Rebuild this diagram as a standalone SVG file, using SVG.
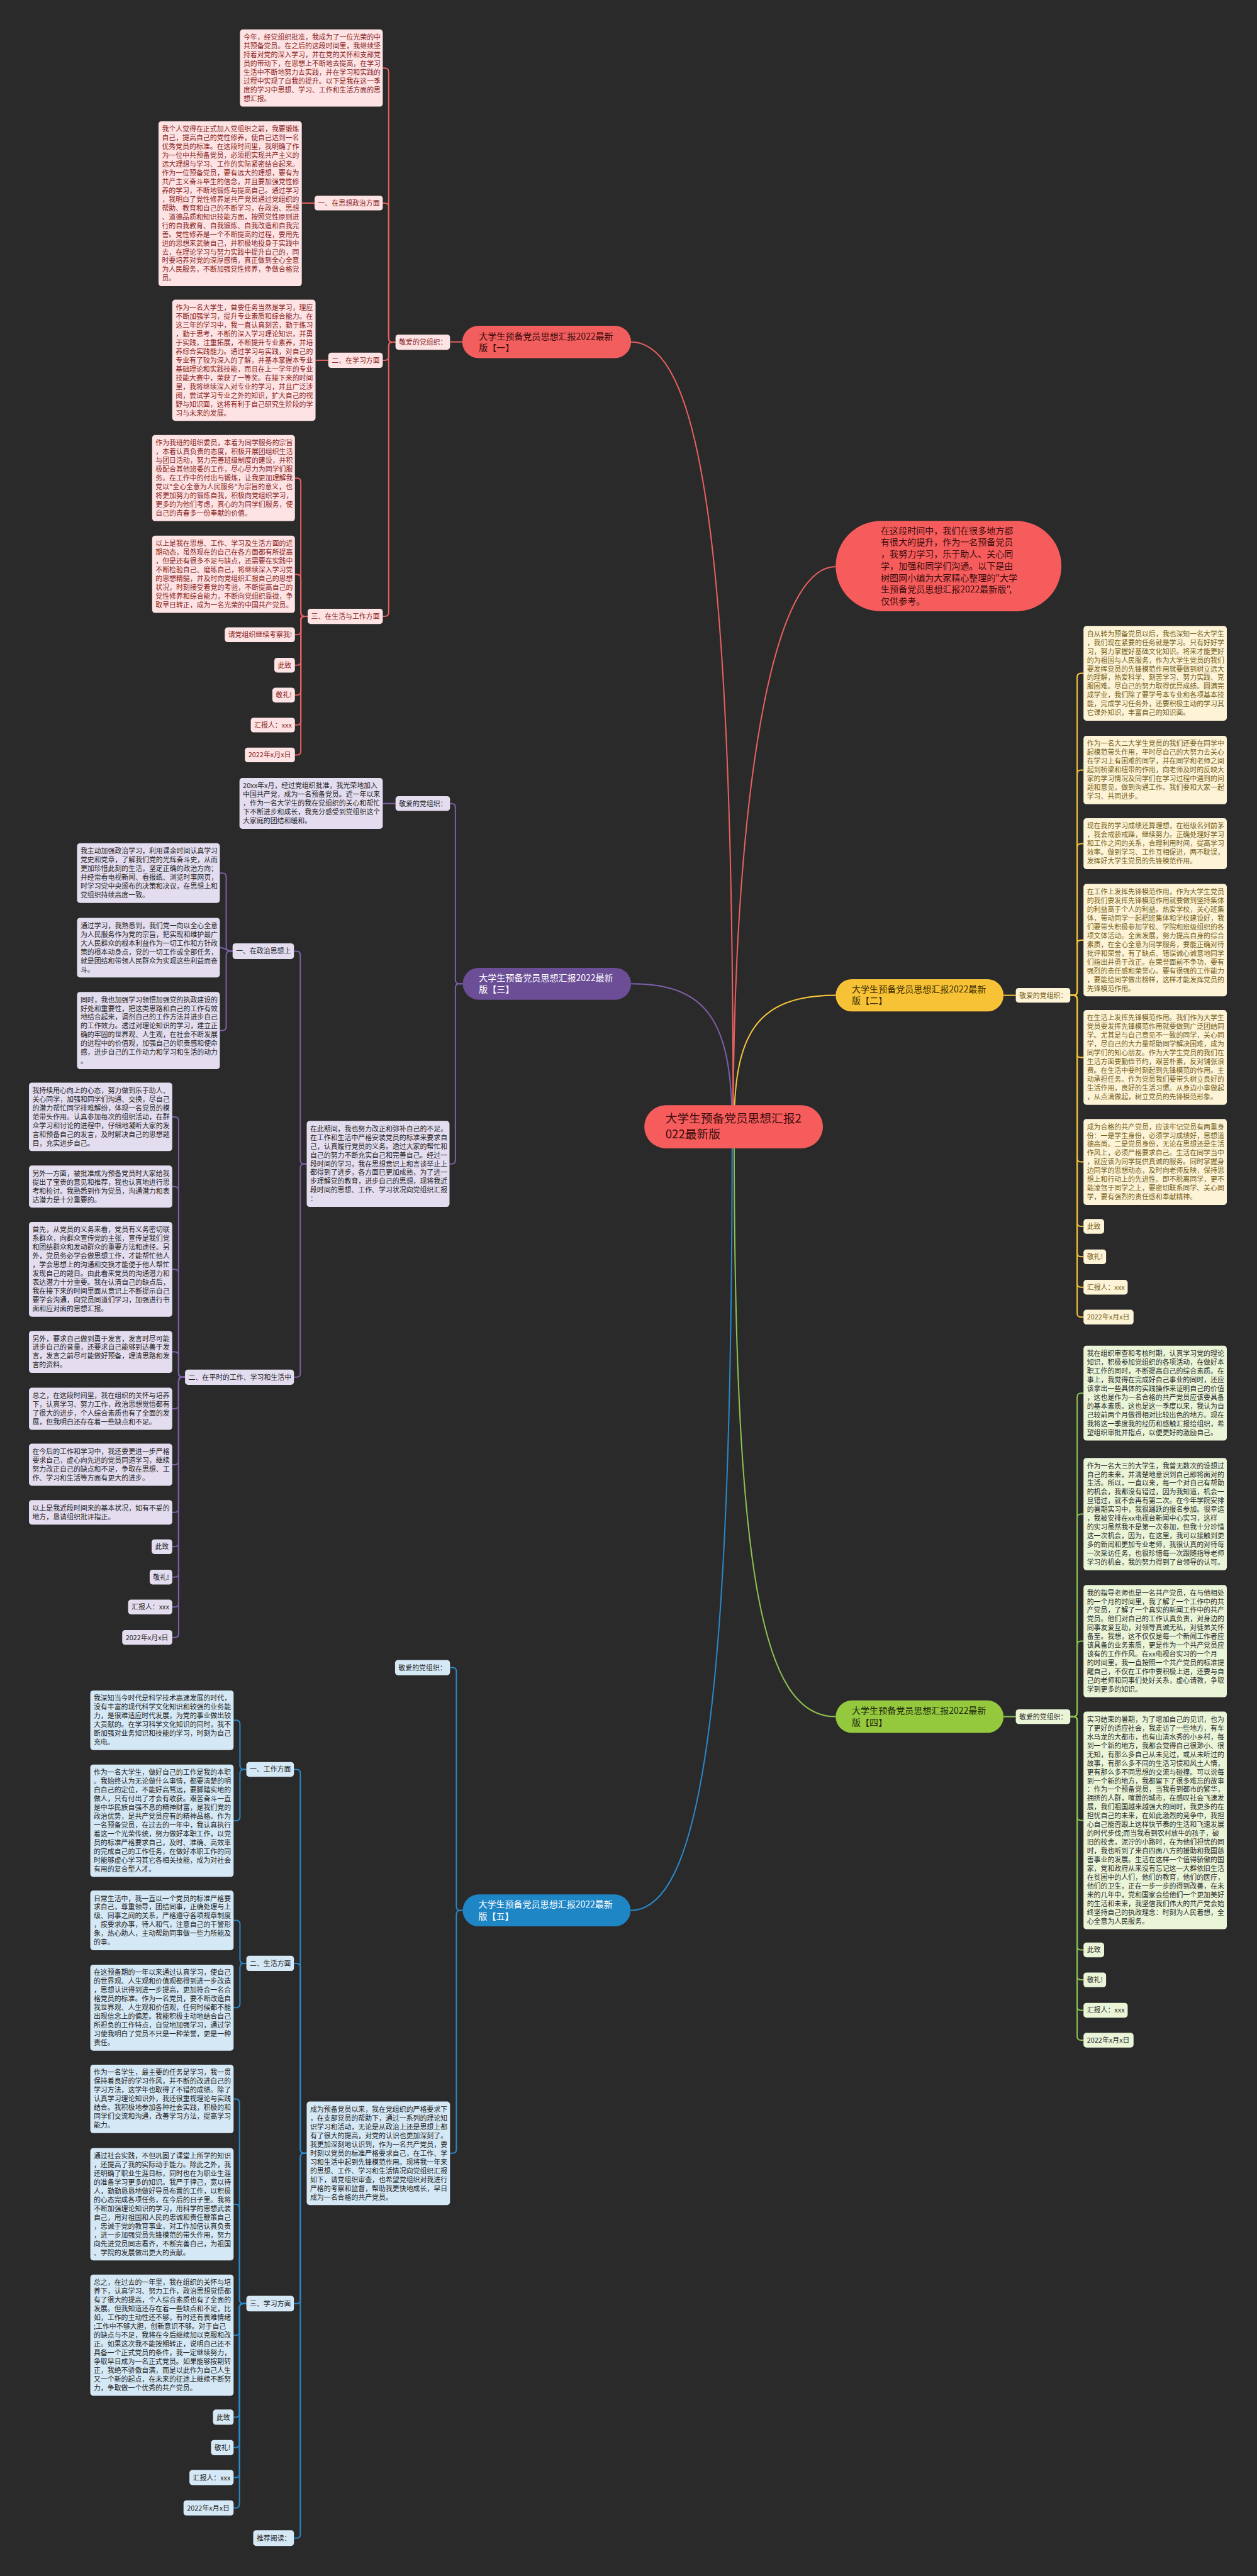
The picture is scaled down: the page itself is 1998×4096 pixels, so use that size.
<svg xmlns="http://www.w3.org/2000/svg" width="1998" height="4096" viewBox="0 0 1998 4096">
<defs><style>
.t{font-family:"Noto Sans CJK SC","Noto Sans",sans-serif;font-size:14px}
.big{font-size:18px}
.rt{font-size:24px}
.c{fill:none;stroke-width:2.6}
.r1{fill:#fde3e3}.x1{fill:#8a1f1f}.l1{stroke:#e8605f}
.r2{fill:#fdf3d6}.x2{fill:#76621c}.l2{stroke:#f2c23a}
.r3{fill:#e3ddef}.x3{fill:#262626}.l3{stroke:#7d5fa8}
.r4{fill:#eaf5d8}.x4{fill:#2c2c2c}.l4{stroke:#8cc152}
.r5{fill:#d5e8f5}.x5{fill:#1e1e1e}.l5{stroke:#2a88c8}
.dk{fill:#3a0c0c}.wh{fill:#ffffff}
</style></defs>
<rect width="1998" height="4096" fill="#2a2a2a"/>
<g transform="scale(0.78)">
<g id="connectors">
<path class="c l1" d="M1494,2297C1494,1200 1440,697 1286,697"/>
<path class="c l1" d="M1494,2297C1494,1700 1560,1155 1703,1155"/>
<path class="c l2" d="M1496,2297C1496,2110 1540,2029 1703,2029"/>
<path class="c l3" d="M1492,2297C1492,2080 1440,2005.5 1286,2005.5"/>
<path class="c l4" d="M1496,2297C1496,3200 1550,3499.5 1703,3499.5"/>
<path class="c l5" d="M1492,2297C1492,3400 1440,3894.5 1285,3894.5"/>
<g class="c l1">
<path d="M942,697H917"/>
<path d="M806,697.5H800Q792,697.5 792,689.5V146.7Q792,138.7 784,138.7H780"/>
<path d="M806,697.5H800Q792,697.5 792,689.5V422Q792,414 784,414H780"/>
<path d="M806,697.5H800Q792,697.5 792,705.5V726.5Q792,734.5 784,734.5H780"/>
<path d="M806,697.5H800Q792,697.5 792,705.5V1248.5Q792,1256.5 784,1256.5H780"/>
<path d="M641,414H615"/>
<path d="M669,734.5H643"/>
<path d="M627,1256.5H621Q613,1256.5 613,1248.5V982.6Q613,974.6 605,974.6H601"/>
<path d="M627,1256.5H621Q613,1256.5 613,1248.5V1178.7Q613,1170.7 605,1170.7H601"/>
<path d="M627,1256.5H621Q613,1256.5 613,1264.5V1286Q613,1294 605,1294H601"/>
<path d="M627,1256.5H621Q613,1256.5 613,1264.5V1348Q613,1356 605,1356H601"/>
<path d="M627,1256.5H621Q613,1256.5 613,1264.5V1409Q613,1417 605,1417H601"/>
<path d="M627,1256.5H621Q613,1256.5 613,1264.5V1470Q613,1478 605,1478H601"/>
<path d="M627,1256.5H621Q613,1256.5 613,1264.5V1531Q613,1539 605,1539H601"/>
</g>
<g class="c l3">
<path d="M943,2005.5H936Q928,2005.5 928,1997.5V1646Q928,1638 920,1638H917"/>
<path d="M943,2005.5H936Q928,2005.5 928,2013.5V2364.7Q928,2372.7 920,2372.7H916"/>
<path d="M806,1638H780"/>
<path d="M625,2372.7H620Q612,2372.7 612,2364.7V1947Q612,1939 604,1939H599"/>
<path d="M625,2372.7H620Q612,2372.7 612,2380.7V2799.5Q612,2807.5 604,2807.5H599"/>
<path d="M474,1939H469Q461,1939 461,1931V1787.8Q461,1779.8 453,1779.8H448"/>
<path d="M474,1939C461,1939 461,1931.8 448,1931.8"/>
<path d="M474,1939H469Q461,1939 461,1947V2092.7Q461,2100.7 453,2100.7H448"/>
<path d="M377,2807.5H372Q364,2807.5 364,2799.5V2284.8Q364,2276.8 356,2276.8H351"/>
<path d="M377,2807.5H372Q364,2807.5 364,2799.5V2426.9Q364,2418.9 356,2418.9H351"/>
<path d="M377,2807.5H372Q364,2807.5 364,2799.5V2595.6Q364,2587.6 356,2587.6H351"/>
<path d="M377,2807.5H372Q364,2807.5 364,2799.5V2763.9Q364,2755.9 356,2755.9H351"/>
<path d="M377,2807.5H372Q364,2807.5 364,2815.5V2863.9Q364,2871.9 356,2871.9H351"/>
<path d="M377,2807.5H372Q364,2807.5 364,2815.5V2977.9Q364,2985.9 356,2985.9H351"/>
<path d="M377,2807.5H372Q364,2807.5 364,2815.5V3075Q364,3083 356,3083H351"/>
<path d="M377,2807.5H372Q364,2807.5 364,2815.5V3145Q364,3153 356,3153H351"/>
<path d="M377,2807.5H372Q364,2807.5 364,2815.5V3207Q364,3215 356,3215H351"/>
<path d="M377,2807.5H372Q364,2807.5 364,2815.5V3268Q364,3276 356,3276H351"/>
<path d="M377,2807.5H372Q364,2807.5 364,2815.5V3330Q364,3338 356,3338H351"/>
</g>
<g class="c l2">
<path d="M2045,2029H2070"/>
<path d="M2181,2029H2187Q2195,2029 2195,2021V1380.6Q2195,1372.6 2203,1372.6H2208"/>
<path d="M2181,2029H2187Q2195,2029 2195,2021V1577.8Q2195,1569.8 2203,1569.8H2208"/>
<path d="M2181,2029H2187Q2195,2029 2195,2021V1727.9Q2195,1719.9 2203,1719.9H2208"/>
<path d="M2181,2029H2187Q2195,2029 2195,2021V1924.5Q2195,1916.5 2203,1916.5H2208"/>
<path d="M2181,2029H2187Q2195,2029 2195,2037V2147.6Q2195,2155.6 2203,2155.6H2208"/>
<path d="M2181,2029H2187Q2195,2029 2195,2037V2360.7Q2195,2368.7 2203,2368.7H2208"/>
<path d="M2181,2029H2187Q2195,2029 2195,2037V2492Q2195,2500 2203,2500H2208"/>
<path d="M2181,2029H2187Q2195,2029 2195,2037V2554Q2195,2562 2203,2562H2208"/>
<path d="M2181,2029H2187Q2195,2029 2195,2037V2616Q2195,2624 2203,2624H2208"/>
<path d="M2181,2029H2187Q2195,2029 2195,2037V2677Q2195,2685 2203,2685H2208"/>
</g>
<g class="c l4">
<path d="M2045,3499.5H2070"/>
<path d="M2181,3499.5H2187Q2195,3499.5 2195,3491.5V2848Q2195,2840 2203,2840H2208"/>
<path d="M2181,3499.5H2187Q2195,3499.5 2195,3491.5V3094.5Q2195,3086.5 2203,3086.5H2208"/>
<path d="M2181,3499.5H2187Q2195,3499.5 2195,3491.5V3353.5Q2195,3345.5 2203,3345.5H2208"/>
<path d="M2181,3499.5H2187Q2195,3499.5 2195,3507.5V3702.9Q2195,3710.9 2203,3710.9H2208"/>
<path d="M2181,3499.5H2187Q2195,3499.5 2195,3507.5V3967Q2195,3975 2203,3975H2208"/>
<path d="M2181,3499.5H2187Q2195,3499.5 2195,3507.5V4028Q2195,4036 2203,4036H2208"/>
<path d="M2181,3499.5H2187Q2195,3499.5 2195,3507.5V4090Q2195,4098 2203,4098H2208"/>
<path d="M2181,3499.5H2187Q2195,3499.5 2195,3507.5V4151Q2195,4159 2203,4159H2208"/>
</g>
<g class="c l5">
<path d="M943,3894.5H938Q930,3894.5 930,3886.5V3407.5Q930,3399.5 922,3399.5H917"/>
<path d="M943,3894.5H938Q930,3894.5 930,3902.5V4381.5Q930,4389.5 922,4389.5H917"/>
<path d="M625,4389.5H620Q612,4389.5 612,4381.5V3615Q612,3607 604,3607H599"/>
<path d="M625,4389.5H620Q612,4389.5 612,4381.5V4010.5Q612,4002.5 604,4002.5H599"/>
<path d="M625,4389.5H620Q612,4389.5 612,4397.5V4688Q612,4696 604,4696H599"/>
<path d="M625,4389.5H620Q612,4389.5 612,4397.5V5166Q612,5174 604,5174H599"/>
<path d="M502,3607H497Q489,3607 489,3599V3514.8Q489,3506.8 481,3506.8H476"/>
<path d="M502,3607H497Q489,3607 489,3615V3703.5Q489,3711.5 481,3711.5H476"/>
<path d="M502,4002.5H497Q489,4002.5 489,3994.5V3922.8Q489,3914.8 481,3914.8H476"/>
<path d="M502,4002.5H497Q489,4002.5 489,4010.5V4084.7Q489,4092.7 481,4092.7H476"/>
<path d="M502,4696H496Q488,4696 488,4688V4286.8Q488,4278.8 480,4278.8H476"/>
<path d="M502,4696H496Q488,4696 488,4688V4501.5Q488,4493.5 480,4493.5H476"/>
<path d="M502,4696H496Q488,4696 488,4704V4752.5Q488,4760.5 480,4760.5H476"/>
<path d="M502,4696H496Q488,4696 488,4704V4919.5Q488,4927.5 480,4927.5H476"/>
<path d="M502,4696H496Q488,4696 488,4704V4981.5Q488,4989.5 480,4989.5H476"/>
<path d="M502,4696H496Q488,4696 488,4704V5042.5Q488,5050.5 480,5050.5H476"/>
<path d="M502,4696H496Q488,4696 488,4704V5104.5Q488,5112.5 480,5112.5H476"/>
</g>
</g>

<g id="root"><rect x="1313" y="2253" width="364" height="88" rx="44" fill="#f75c5c"/><text class="t rt dk" y="2289"><tspan x="1356">大学生预备党员思想汇报2</tspan><tspan x="1356" dy="31">022最新版</tspan></text></g>
<g id="intro"><rect x="1703" y="1062" width="460" height="184" rx="92" fill="#f75c5c"/><text class="t big dk" y="1088"><tspan x="1795">在这段时间中，我们在很多地方都</tspan><tspan x="1795" dy="24">有很大的提升，作为一名预备党员</tspan><tspan x="1795" dy="24">，我努力学习，乐于助人、关心同</tspan><tspan x="1795" dy="24">学，加强和同学们沟通。以下是由</tspan><tspan x="1795" dy="24">树图网小编为大家精心整理的"大学</tspan><tspan x="1795" dy="24">生预备党员思想汇报2022最新版",</tspan><tspan x="1795" dy="24">仅供参考。</tspan></text></g>

<!-- branch 1 -->
<g id="n1"><rect x="942" y="664" width="344" height="66" rx="33" fill="#f25d5d"/><text class="t big dk" y="692"><tspan x="976">大学生预备党员思想汇报2022最新</tspan><tspan x="976" dy="23.5">版【一】</tspan></text></g>
<g id="n1-dear"><rect class="r1" x="806" y="682" width="111" height="31" rx="6"/><text class="t x1" x="813" y="703">敬爱的党组织：</text></g>
<g id="n1-a1"><rect class="r1" x="489" y="60" width="291" height="157.4" rx="6"/><text class="t x1" y="81"><tspan x="496">今年，经党组织批准，我成为了一位光荣的中</tspan><tspan x="496" dy="17.9">共预备党员。在之后的这段时间里，我继续坚</tspan><tspan x="496" dy="17.9">持着对党的深入学习，并在党的关怀和支部党</tspan><tspan x="496" dy="17.9">员的带动下，在思想上不断地去提高，在学习</tspan><tspan x="496" dy="17.9">生活中不断地努力去实践，并在学习和实践的</tspan><tspan x="496" dy="17.9">过程中实现了自我的提升。以下是我在这一季</tspan><tspan x="496" dy="17.9">度的学习中思想、学习、工作和生活方面的思</tspan><tspan x="496" dy="17.9">想汇报。</tspan></text></g>
<g id="n1-s1"><rect class="r1" x="641" y="399" width="139" height="30" rx="6"/><text class="t x1" x="648" y="419">一、在思想政治方面</text></g>
<g id="n1-a2"><rect class="r1" x="323" y="247" width="292" height="336.4" rx="6"/><text class="t x1" y="268"><tspan x="330">我个人觉得在正式加入党组织之前，我要锻炼</tspan><tspan x="330" dy="17.9">自己，提高自己的党性修养，使自己达到一名</tspan><tspan x="330" dy="17.9">优秀党员的标准。在这段时间里，我明确了作</tspan><tspan x="330" dy="17.9">为一位中共预备党员，必须把实现共产主义的</tspan><tspan x="330" dy="17.9">远大理想与学习、工作的实际紧密结合起来。</tspan><tspan x="330" dy="17.9">作为一位预备党员，要有远大的理想，要有为</tspan><tspan x="330" dy="17.9">共产主义奋斗毕生的信念，并且要加强党性修</tspan><tspan x="330" dy="17.9">养的学习，不断地锻炼与提高自己。通过学习</tspan><tspan x="330" dy="17.9">，我明白了党性修养是共产党员通过党组织的</tspan><tspan x="330" dy="17.9">帮助、教育和自己的不断学习，在政治、思想</tspan><tspan x="330" dy="17.9">、道德品质和知识技能方面，按照党性原则进</tspan><tspan x="330" dy="17.9">行的自我教育、自我锻炼、自我改造和自我完</tspan><tspan x="330" dy="17.9">善。党性修养是一个不断提高的过程，要用先</tspan><tspan x="330" dy="17.9">进的思想来武装自己，并积极地投身于实践中</tspan><tspan x="330" dy="17.9">去，在理论学习与努力实践中提升自己的，同</tspan><tspan x="330" dy="17.9">时要培养对党的深厚感情，真正做到全心全意</tspan><tspan x="330" dy="17.9">为人民服务，不断加强党性修养，争做合格党</tspan><tspan x="330" dy="17.9">员。</tspan></text></g>
<g id="n1-s2"><rect class="r1" x="669" y="719" width="111" height="31" rx="6"/><text class="t x1" x="676" y="740">二、在学习方面</text></g>
<g id="n1-a3"><rect class="r1" x="351" y="611" width="292" height="246.9" rx="6"/><text class="t x1" y="632"><tspan x="358">作为一名大学生，首要任务当然是学习，理应</tspan><tspan x="358" dy="17.9">不断加强学习，提升专业素质和综合能力。在</tspan><tspan x="358" dy="17.9">这三年的学习中，我一直认真刻苦，勤于练习</tspan><tspan x="358" dy="17.9">，勤于思考，不断的深入学习理论知识，并勇</tspan><tspan x="358" dy="17.9">于实践，注重拓展，不断提升专业素养，并培</tspan><tspan x="358" dy="17.9">养综合实践能力。通过学习与实践，对自己的</tspan><tspan x="358" dy="17.9">专业有了较为深入的了解，并基本掌握本专业</tspan><tspan x="358" dy="17.9">基础理论和实践技能，而且在上一学年的专业</tspan><tspan x="358" dy="17.9">技能大赛中，荣获了一等奖。在接下来的时间</tspan><tspan x="358" dy="17.9">里，我将继续深入对专业的学习，并且广泛涉</tspan><tspan x="358" dy="17.9">阅，尝试学习专业之外的知识，扩大自己的视</tspan><tspan x="358" dy="17.9">野与知识面，这将有利于自己研究生阶段的学</tspan><tspan x="358" dy="17.9">习与未来的发展。</tspan></text></g>
<g id="n1-s3"><rect class="r1" x="627" y="1241" width="153" height="31" rx="6"/><text class="t x1" x="634" y="1262">三、在生活与工作方面</text></g>
<g id="n1-a4"><rect class="r1" x="310" y="887" width="291" height="175.3" rx="6"/><text class="t x1" y="908"><tspan x="317">作为我班的组织委员，本着为同学服务的宗旨</tspan><tspan x="317" dy="17.9">，本着认真负责的态度，积极开展团组织生活</tspan><tspan x="317" dy="17.9">与团日活动，努力完善班级制度的建设，并积</tspan><tspan x="317" dy="17.9">极配合其他班委的工作，尽心尽力为同学们服</tspan><tspan x="317" dy="17.9">务。在工作中的付出与锻炼，让我更加理解我</tspan><tspan x="317" dy="17.9">党以"全心全意为人民服务"为宗旨的意义，也</tspan><tspan x="317" dy="17.9">将更加努力的锻炼自我，积极向党组织学习，</tspan><tspan x="317" dy="17.9">更多的为他们考虑，真心的为同学们服务，使</tspan><tspan x="317" dy="17.9">自己的青春多一份奉献的价值。</tspan></text></g>
<g id="n1-a5"><rect class="r1" x="310" y="1092" width="291" height="157.4" rx="6"/><text class="t x1" y="1113"><tspan x="317">以上是我在思想、工作、学习及生活方面的近</tspan><tspan x="317" dy="17.9">期动态，虽然现在的自己在各方面都有所提高</tspan><tspan x="317" dy="17.9">，但是还有很多不足与缺点，还需要在实践中</tspan><tspan x="317" dy="17.9">不断检验自己、磨练自己，将继续深入学习党</tspan><tspan x="317" dy="17.9">的思想精髓，并及时向党组织汇报自己的思想</tspan><tspan x="317" dy="17.9">状况，时刻接受着党的考验，不断提高自己的</tspan><tspan x="317" dy="17.9">党性修养和综合能力，不断向党组织靠拢，争</tspan><tspan x="317" dy="17.9">取早日转正，成为一名光荣的中国共产党员。</tspan></text></g>
<g id="n1-a6"><rect class="r1" x="458" y="1279" width="143" height="30" rx="6"/><text class="t x1" x="465" y="1299">请党组织继续考察我!</text></g>
<g id="n1-a7"><rect class="r1" x="559" y="1341" width="42" height="30" rx="6"/><text class="t x1" x="566" y="1361">此致</text></g>
<g id="n1-a8"><rect class="r1" x="555" y="1402" width="46" height="30" rx="6"/><text class="t x1" x="562" y="1422">敬礼!</text></g>
<g id="n1-a9"><rect class="r1" x="511" y="1463" width="90" height="30" rx="6"/><text class="t x1" x="518" y="1483">汇报人：xxx</text></g>
<g id="n1-a10"><rect class="r1" x="499" y="1524" width="102" height="30" rx="6"/><text class="t x1" x="506" y="1544">2022年x月x日</text></g>

<!-- branch 3 -->
<g id="n3"><rect x="943" y="1973" width="343" height="65" rx="32.5" fill="#6b4e96"/><text class="t big wh" y="2000"><tspan x="976">大学生预备党员思想汇报2022最新</tspan><tspan x="976" dy="23.5">版【三】</tspan></text></g>
<g id="n3-dear"><rect class="r3" x="806" y="1623" width="111" height="30" rx="6"/><text class="t x3" x="813" y="1643">敬爱的党组织：</text></g>
<g id="n3-intro"><rect class="r3" x="488" y="1586" width="292" height="103.7" rx="6"/><text class="t x3" y="1607"><tspan x="495">20xx年x月，经过党组织批准，我光荣地加入</tspan><tspan x="495" dy="17.9">中国共产党，成为一名预备党员。近一年以来</tspan><tspan x="495" dy="17.9">，作为一名大学生的我在党组织的关心和帮忙</tspan><tspan x="495" dy="17.9">下不断进步和成长，我充分感受到党组织这个</tspan><tspan x="495" dy="17.9">大家庭的团结和暖和。</tspan></text></g>
<g id="n3-b"><rect class="r3" x="625" y="2285" width="291" height="175.3" rx="6"/><text class="t x3" y="2306"><tspan x="632">在此期间，我也努力改正和弥补自己的不足。</tspan><tspan x="632" dy="17.9">在工作和生活中严格安装党员的标准来要求自</tspan><tspan x="632" dy="17.9">己，认真履行党员的义务。透过大家的帮忙和</tspan><tspan x="632" dy="17.9">自己的努力不断充实自己和完善自己。经过一</tspan><tspan x="632" dy="17.9">段时间的学习，我在思想意识上和言谈举止上</tspan><tspan x="632" dy="17.9">都得到了进步，各方面已更加成熟，为了进一</tspan><tspan x="632" dy="17.9">步理解党的教育，进步自己的思想，现将我近</tspan><tspan x="632" dy="17.9">段时间的思想、工作、学习状况向党组织汇报</tspan><tspan x="632" dy="17.9">：</tspan></text></g>
<g id="n3-s1"><rect class="r3" x="474" y="1923" width="125" height="32" rx="6"/><text class="t x3" x="481" y="1944">一、在政治思想上</text></g>
<g id="n3-s2"><rect class="r3" x="377" y="2792" width="222" height="31" rx="6"/><text class="t x3" x="384" y="2813">二、在平时的工作、学习和生活中</text></g>
<g id="n3-c1"><rect class="r3" x="157" y="1719" width="291" height="121.6" rx="6"/><text class="t x3" y="1740"><tspan x="164">我主动加强政治学习，利用课余时间认真学习</tspan><tspan x="164" dy="17.9">党史和党章，了解我们党的光辉奋斗史，从而</tspan><tspan x="164" dy="17.9">更加珍惜此刻的生活，坚定正确的政治方向；</tspan><tspan x="164" dy="17.9">并经常看电视新闻、看报纸、浏览时事网页，</tspan><tspan x="164" dy="17.9">时学习党中央颁布的决策和决议，在思想上和</tspan><tspan x="164" dy="17.9">党组织持续高度一致。</tspan></text></g>
<g id="n3-c2"><rect class="r3" x="157" y="1871" width="291" height="121.6" rx="6"/><text class="t x3" y="1892"><tspan x="164">通过学习，我熟悉到，我们党一向以全心全意</tspan><tspan x="164" dy="17.9">为人民服务作为党的宗旨，把实现和维护最广</tspan><tspan x="164" dy="17.9">大人民群众的根本利益作为一切工作和方针政</tspan><tspan x="164" dy="17.9">策的根本动身点，党的一切工作或全部任务，</tspan><tspan x="164" dy="17.9">就是团结和带领人民群众为实现这些利益而奋</tspan><tspan x="164" dy="17.9">斗。</tspan></text></g>
<g id="n3-c3"><rect class="r3" x="157" y="2022" width="291" height="157.4" rx="6"/><text class="t x3" y="2043"><tspan x="164">同时，我也加强学习领悟加强党的执政建设的</tspan><tspan x="164" dy="17.9">好处和重要性，把这类思路和自己的工作有效</tspan><tspan x="164" dy="17.9">地结合起来，调剂自己的工作方法并进步自己</tspan><tspan x="164" dy="17.9">的工作效力。透过对理论知识的学习，建立正</tspan><tspan x="164" dy="17.9">确的牢固的世界观、人生观，在社会不断发展</tspan><tspan x="164" dy="17.9">的进程中的价值观，加强自己的职责感和使命</tspan><tspan x="164" dy="17.9">感，进步自己的工作动力和学习和生活的动力</tspan><tspan x="164" dy="17.9">。</tspan></text></g>
<g id="n3-c4"><rect class="r3" x="59" y="2207" width="292" height="139.5" rx="6"/><text class="t x3" y="2228"><tspan x="66">我持续用心向上的心态，努力做到乐于助人、</tspan><tspan x="66" dy="17.9">关心同学，加强和同学们沟通、交换，尽自己</tspan><tspan x="66" dy="17.9">的潜力帮忙同学排难解纷，体现一名党员的模</tspan><tspan x="66" dy="17.9">范带头作用。认真参加每次的组织活动，在群</tspan><tspan x="66" dy="17.9">众学习和讨论的进程中，仔细地凝听大家的发</tspan><tspan x="66" dy="17.9">言和预备自己的发言，及时解决自己的思想题</tspan><tspan x="66" dy="17.9">目，充实进步自己。</tspan></text></g>
<g id="n3-c5"><rect class="r3" x="59" y="2376" width="292" height="85.8" rx="6"/><text class="t x3" y="2397"><tspan x="66">另外一方面，被批准成为预备党员时大家给我</tspan><tspan x="66" dy="17.9">提出了宝贵的意见和推荐，我也认真地进行思</tspan><tspan x="66" dy="17.9">考和检讨。我熟悉到作为党员，沟通潜力和表</tspan><tspan x="66" dy="17.9">达潜力是十分重要的。</tspan></text></g>
<g id="n3-c6"><rect class="r3" x="59" y="2491" width="292" height="193.2" rx="6"/><text class="t x3" y="2512"><tspan x="66">首先，从党员的义务来看，党员有义务密切联</tspan><tspan x="66" dy="17.9">系群众，向群众宣传党的主张，宣传是我们党</tspan><tspan x="66" dy="17.9">和团结群众和发动群众的重要方法和途径。另</tspan><tspan x="66" dy="17.9">外，党员务必学会做思想工作，才能帮忙他人</tspan><tspan x="66" dy="17.9">，学会思想上的沟通和交换才能便于他人帮忙</tspan><tspan x="66" dy="17.9">发现自己的题目。由此看来党员的沟通潜力和</tspan><tspan x="66" dy="17.9">表达潜力十分重要。我在认清自己的缺点后，</tspan><tspan x="66" dy="17.9">我在接下来的时间里面从意识上不断提示自己</tspan><tspan x="66" dy="17.9">要学会沟通，向党员同道们学习，加强进行书</tspan><tspan x="66" dy="17.9">面和应对面的思想汇报。</tspan></text></g>
<g id="n3-c7"><rect class="r3" x="59" y="2713" width="292" height="85.8" rx="6"/><text class="t x3" y="2734"><tspan x="66">另外，要求自己做到勇于发言，发言时尽可能</tspan><tspan x="66" dy="17.9">进步自己的音量，还要求自己能够到达善于发</tspan><tspan x="66" dy="17.9">言，发言之前尽可能做好预备，理清思路和发</tspan><tspan x="66" dy="17.9">言的资料。</tspan></text></g>
<g id="n3-c8"><rect class="r3" x="59" y="2829" width="292" height="85.8" rx="6"/><text class="t x3" y="2850"><tspan x="66">总之，在这段时间里，我在组织的关怀与培养</tspan><tspan x="66" dy="17.9">下，认真学习、努力工作，政治思想觉悟都有</tspan><tspan x="66" dy="17.9">了很大的进步，个人综合素质也有了全面的发</tspan><tspan x="66" dy="17.9">展，但我明白还存在着一些缺点和不足。</tspan></text></g>
<g id="n3-c9"><rect class="r3" x="59" y="2943" width="292" height="85.8" rx="6"/><text class="t x3" y="2964"><tspan x="66">在今后的工作和学习中，我还要更进一步严格</tspan><tspan x="66" dy="17.9">要求自己，虚心向先进的党员同道学习，继续</tspan><tspan x="66" dy="17.9">努力改正自己的缺点和不足，争取在思想、工</tspan><tspan x="66" dy="17.9">作、学习和生活等方面有更大的进步。</tspan></text></g>
<g id="n3-c10"><rect class="r3" x="59" y="3058" width="292" height="50" rx="6"/><text class="t x3" y="3079"><tspan x="66">以上是我近段时间来的基本状况，如有不妥的</tspan><tspan x="66" dy="17.9">地方，恳请组织批评指正。</tspan></text></g>
<g id="n3-c11"><rect class="r3" x="309" y="3138" width="42" height="30" rx="6"/><text class="t x3" x="316" y="3158">此致</text></g>
<g id="n3-c12"><rect class="r3" x="305" y="3200" width="46" height="30" rx="6"/><text class="t x3" x="312" y="3220">敬礼!</text></g>
<g id="n3-c13"><rect class="r3" x="261" y="3261" width="90" height="30" rx="6"/><text class="t x3" x="268" y="3281">汇报人：xxx</text></g>
<g id="n3-c14"><rect class="r3" x="249" y="3323" width="102" height="30" rx="6"/><text class="t x3" x="256" y="3343">2022年x月x日</text></g>

<!-- branch 2 -->
<g id="n2"><rect x="1703" y="1996" width="342" height="66" rx="33" fill="#f8c236"/><text class="t big" fill="#3a2c00" y="2023"><tspan x="1736">大学生预备党员思想汇报2022最新</tspan><tspan x="1736" dy="23.5">版【二】</tspan></text></g>
<g id="n2-dear"><rect class="r2" x="2070" y="2014" width="111" height="30" rx="6"/><text class="t x2" x="2077" y="2034">敬爱的党组织：</text></g>
<g id="n2-e1"><rect class="r2" x="2208" y="1276" width="292" height="193.2" rx="6"/><text class="t x2" y="1297"><tspan x="2215">自从转为预备党员以后，我也深知一名大学生</tspan><tspan x="2215" dy="17.9">，我们现在紧要的任务就是学习。只有好好学</tspan><tspan x="2215" dy="17.9">习，努力掌握好基础文化知识。将来才能更好</tspan><tspan x="2215" dy="17.9">的为祖国与人民服务，作为大学生党员的我们</tspan><tspan x="2215" dy="17.9">要发挥党员的先锋模范作用就要做到树立远大</tspan><tspan x="2215" dy="17.9">的理解，热爱科学、刻苦学习、努力实践、克</tspan><tspan x="2215" dy="17.9">服困难。尽自己的努力取得优异成绩。圆满完</tspan><tspan x="2215" dy="17.9">成学业，我们除了要学号本专业和各项基本技</tspan><tspan x="2215" dy="17.9">能，完成学习任务外，还要积极主动的学习其</tspan><tspan x="2215" dy="17.9">它课外知识，丰富自己的知识面。</tspan></text></g>
<g id="n2-e2"><rect class="r2" x="2208" y="1500" width="292" height="139.5" rx="6"/><text class="t x2" y="1521"><tspan x="2215">作为一名大二大学生党员的我们还要在同学中</tspan><tspan x="2215" dy="17.9">起模范带头作用，平时尽自己的大努力去关心</tspan><tspan x="2215" dy="17.9">在学习上有困难的同学，并在同学和老师之间</tspan><tspan x="2215" dy="17.9">起到桥梁和纽带的作用，向老师及时的反映大</tspan><tspan x="2215" dy="17.9">家的学习情况及同学们在学习过程中遇到的问</tspan><tspan x="2215" dy="17.9">题和意见，做到沟通工作。我们要和大家一起</tspan><tspan x="2215" dy="17.9">学习、共同进步。</tspan></text></g>
<g id="n2-e3"><rect class="r2" x="2208" y="1668" width="292" height="103.7" rx="6"/><text class="t x2" y="1689"><tspan x="2215">现在我的学习成绩还算理想，在班级名列前茅</tspan><tspan x="2215" dy="17.9">，我会戒骄戒躁，继续努力。正确处理好学习</tspan><tspan x="2215" dy="17.9">和工作之间的关系，合理利用时间，提高学习</tspan><tspan x="2215" dy="17.9">效率。做到学习、工作互相促进，两不耽误，</tspan><tspan x="2215" dy="17.9">发挥好大学生党员的先锋模范作用。</tspan></text></g>
<g id="n2-e4"><rect class="r2" x="2208" y="1802" width="292" height="229" rx="6"/><text class="t x2" y="1823"><tspan x="2215">在工作上发挥先锋模范作用，作为大学生党员</tspan><tspan x="2215" dy="17.9">的我们要发挥先锋模范作用就要做到坚持集体</tspan><tspan x="2215" dy="17.9">的利益高于个人的利益。热爱学校，关心班集</tspan><tspan x="2215" dy="17.9">体，带动同学一起把班集体和学校建设好，我</tspan><tspan x="2215" dy="17.9">们要带头积极参加学校、学院和班级组织的各</tspan><tspan x="2215" dy="17.9">项文体活动。全面发展，努力提高自身的综合</tspan><tspan x="2215" dy="17.9">素质，在全心全意为同学服务，要能正确对待</tspan><tspan x="2215" dy="17.9">批评和荣誉，有了缺点、错误诚心诚意地同学</tspan><tspan x="2215" dy="17.9">们指出并勇于改正。在荣誉面前不争功，要有</tspan><tspan x="2215" dy="17.9">强烈的责任感和荣誉心。要有很强的工作能力</tspan><tspan x="2215" dy="17.9">，要能给同学做出榜样，这样才能发挥党员的</tspan><tspan x="2215" dy="17.9">先锋模范作用。</tspan></text></g>
<g id="n2-e5"><rect class="r2" x="2208" y="2059" width="292" height="193.2" rx="6"/><text class="t x2" y="2080"><tspan x="2215">在生活上发挥先锋模范作用。我们作为大学生</tspan><tspan x="2215" dy="17.9">党员要发挥先锋模范作用就要做到广泛团结同</tspan><tspan x="2215" dy="17.9">学。尤其是与自己意见不一致的同学，关心同</tspan><tspan x="2215" dy="17.9">学，尽自己的大力量帮助同学解决困难，成为</tspan><tspan x="2215" dy="17.9">同学们的知心朋友。作为大学生党员的我们在</tspan><tspan x="2215" dy="17.9">生活方面要勤俭节约，艰苦朴素，反对铺张浪</tspan><tspan x="2215" dy="17.9">费。在生活中要时刻起到先锋模范的作用。主</tspan><tspan x="2215" dy="17.9">动承担任务。作为党员我们要带头树立良好的</tspan><tspan x="2215" dy="17.9">生活作用，良好的生活习惯。从身边小事做起</tspan><tspan x="2215" dy="17.9">，从点滴做起，树立党员的先锋模范形象。</tspan></text></g>
<g id="n2-e6"><rect class="r2" x="2208" y="2281" width="292" height="175.3" rx="6"/><text class="t x2" y="2302"><tspan x="2215">成为合格的共产党员，应该牢记党员有两重身</tspan><tspan x="2215" dy="17.9">份：一是学生身份，必须学习成绩好，思想道</tspan><tspan x="2215" dy="17.9">德高尚。二是党员身份，无论在思想还是生活</tspan><tspan x="2215" dy="17.9">作风上，必须严格要求自己。生活在同学当中</tspan><tspan x="2215" dy="17.9">，就应该为同学提供真诚的服务。同时掌握身</tspan><tspan x="2215" dy="17.9">边同学的思想动态，及时向老师反映，保持思</tspan><tspan x="2215" dy="17.9">想上和行动上的先进性。即不脱离同学，更不</tspan><tspan x="2215" dy="17.9">能凌驾于同学之上，要密切联系同学、关心同</tspan><tspan x="2215" dy="17.9">学，要有强烈的责任感和奉献精神。</tspan></text></g>
<g id="n2-e7"><rect class="r2" x="2208" y="2485" width="42" height="30" rx="6"/><text class="t x2" x="2215" y="2505">此致</text></g>
<g id="n2-e8"><rect class="r2" x="2208" y="2547" width="46" height="30" rx="6"/><text class="t x2" x="2215" y="2567">敬礼!</text></g>
<g id="n2-e9"><rect class="r2" x="2208" y="2609" width="90" height="30" rx="6"/><text class="t x2" x="2215" y="2629">汇报人：xxx</text></g>
<g id="n2-e10"><rect class="r2" x="2208" y="2670" width="102" height="30" rx="6"/><text class="t x2" x="2215" y="2690">2022年x月x日</text></g>

<!-- branch 4 -->
<g id="n4"><rect x="1703" y="3466.5" width="342" height="66" rx="33" fill="#95c93d"/><text class="t big" fill="#1f2a10" y="3494"><tspan x="1736">大学生预备党员思想汇报2022最新</tspan><tspan x="1736" dy="23.5">版【四】</tspan></text></g>
<g id="n4-dear"><rect class="r4" x="2070" y="3484.5" width="111" height="30" rx="6"/><text class="t x4" x="2077" y="3504.5">敬爱的党组织：</text></g>
<g id="n4-d1"><rect class="r4" x="2208" y="2743.4" width="292" height="193.2" rx="6"/><text class="t x4" y="2764.4"><tspan x="2215">我在组织审查和考核时期，认真学习党的理论</tspan><tspan x="2215" dy="17.9">知识，积极参加党组织的各项活动，在做好本</tspan><tspan x="2215" dy="17.9">职工作的同时，不断提高自己的综合素质。在</tspan><tspan x="2215" dy="17.9">事上，我觉得在完成好自己事业的同时，还应</tspan><tspan x="2215" dy="17.9">该拿出一些具体的实践操作来证明自己的价值</tspan><tspan x="2215" dy="17.9">，这也是作为一名合格的共产党员应该要具备</tspan><tspan x="2215" dy="17.9">的基本素质。这也是这一季度以来，我认为自</tspan><tspan x="2215" dy="17.9">己较前两个月做得相对比较出色的地方。现在</tspan><tspan x="2215" dy="17.9">我将这一季度我的经历和感触汇报给组织，希</tspan><tspan x="2215" dy="17.9">望组织审批并指点，以便更好的激励自己。</tspan></text></g>
<g id="n4-d2"><rect class="r4" x="2208" y="2972" width="292" height="229" rx="6"/><text class="t x4" y="2993"><tspan x="2215">作为一名大三的大学生，我曾无数次的设想过</tspan><tspan x="2215" dy="17.9">自己的未来，并清楚地意识到自己即将面对的</tspan><tspan x="2215" dy="17.9">生活。所以，一直以来，每一个对自己有帮助</tspan><tspan x="2215" dy="17.9">的机会，我都没有错过，因为我知道，机会一</tspan><tspan x="2215" dy="17.9">旦错过，就不会再有第二次。在今年学院安排</tspan><tspan x="2215" dy="17.9">的暑期实习中，我很踊跃的报名参加。很幸运</tspan><tspan x="2215" dy="17.9">，我被安排在xx电视台新闻中心实习，这样</tspan><tspan x="2215" dy="17.9">的实习虽然我不是第一次参加，但我十分珍惜</tspan><tspan x="2215" dy="17.9">这一次机会，因为，在这里，我可以接触到更</tspan><tspan x="2215" dy="17.9">多的新闻和更加专业老师，我很认真的对待每</tspan><tspan x="2215" dy="17.9">一次采访任务，也很珍惜每一次跟随指导老师</tspan><tspan x="2215" dy="17.9">学习的机会，我的努力得到了台领导的认可。</tspan></text></g>
<g id="n4-d3"><rect class="r4" x="2208" y="3231" width="292" height="229" rx="6"/><text class="t x4" y="3252"><tspan x="2215">我的指导老师也是一名共产党员，在与他相处</tspan><tspan x="2215" dy="17.9">的一个月的时间里，我了解了一个工作中的共</tspan><tspan x="2215" dy="17.9">产党员，了解了一个真实的新闻工作中的共产</tspan><tspan x="2215" dy="17.9">党员。他们对自己的工作认真负责，对身边的</tspan><tspan x="2215" dy="17.9">同事友爱互助，对领导真诚无私，对徒弟关怀</tspan><tspan x="2215" dy="17.9">备至。我想，这不仅仅是每一个新闻工作者应</tspan><tspan x="2215" dy="17.9">该具备的业务素质，更是作为一个共产党员应</tspan><tspan x="2215" dy="17.9">该有的工作作风。在xx电视台实习的一个月</tspan><tspan x="2215" dy="17.9">的时间里，我一直按照一个共产党员的标准提</tspan><tspan x="2215" dy="17.9">醒自己，不仅在工作中要积极上进，还要与自</tspan><tspan x="2215" dy="17.9">己的老师和同事们处好关系，虚心请教，争取</tspan><tspan x="2215" dy="17.9">学到更多的知识。</tspan></text></g>
<g id="n4-d4"><rect class="r4" x="2208" y="3489" width="292" height="443.8" rx="6"/><text class="t x4" y="3510"><tspan x="2215">实习结束的暑期，为了增加自己的见识，也为</tspan><tspan x="2215" dy="17.9">了更好的适应社会，我走访了一些地方，有车</tspan><tspan x="2215" dy="17.9">水马龙的大都市，也有山清水秀的小乡村，每</tspan><tspan x="2215" dy="17.9">到一个新的地方，我都会觉得自己很渺小、很</tspan><tspan x="2215" dy="17.9">无知，有那么多自己从未见过，或从未听过的</tspan><tspan x="2215" dy="17.9">故事，有那么多不同的生活习惯和风土人情，</tspan><tspan x="2215" dy="17.9">更有那么多不同思想的交流与碰撞。可以说每</tspan><tspan x="2215" dy="17.9">到一个新的地方，我都留下了很多难忘的故事</tspan><tspan x="2215" dy="17.9">：作为一个预备党员，当我看到都市的繁华，</tspan><tspan x="2215" dy="17.9">拥挤的人群，喧嚣的城市，在感叹社会飞速发</tspan><tspan x="2215" dy="17.9">展，我们祖国越来越强大的同时，我更多的在</tspan><tspan x="2215" dy="17.9">担忧自己的未来，在如此激烈的竞争中，我担</tspan><tspan x="2215" dy="17.9">心自己能否跟上这样快节奏的生活和飞速发展</tspan><tspan x="2215" dy="17.9">的时代步伐;而当我看到农村放牛的孩子，破</tspan><tspan x="2215" dy="17.9">旧的校舍，泥泞的小路时，在为他们担忧的同</tspan><tspan x="2215" dy="17.9">时，我也听到了来自四面八方的援助和我国慈</tspan><tspan x="2215" dy="17.9">善事业的发展。生活在这样一个值得骄傲的国</tspan><tspan x="2215" dy="17.9">家，党和政府从来没有忘记这一大群依旧生活</tspan><tspan x="2215" dy="17.9">在贫困中的人们，他们的教育，他们的医疗，</tspan><tspan x="2215" dy="17.9">他们的卫生，正在一步一步的得到改善，在未</tspan><tspan x="2215" dy="17.9">来的几年中，党和国家会给他们一个更加美好</tspan><tspan x="2215" dy="17.9">的生活和未来，我坚信我们伟大的共产党会始</tspan><tspan x="2215" dy="17.9">终坚持自己的执政理念：时刻为人民着想，全</tspan><tspan x="2215" dy="17.9">心全意为人民服务。</tspan></text></g>
<g id="n4-d5"><rect class="r4" x="2208" y="3960" width="42" height="30" rx="6"/><text class="t x4" x="2215" y="3980">此致</text></g>
<g id="n4-d6"><rect class="r4" x="2208" y="4021" width="46" height="30" rx="6"/><text class="t x4" x="2215" y="4041">敬礼!</text></g>
<g id="n4-d7"><rect class="r4" x="2208" y="4083" width="90" height="30" rx="6"/><text class="t x4" x="2215" y="4103">汇报人：xxx</text></g>
<g id="n4-d8"><rect class="r4" x="2208" y="4144" width="102" height="30" rx="6"/><text class="t x4" x="2215" y="4164">2022年x月x日</text></g>

<!-- branch 5 -->
<g id="n5"><rect x="943" y="3862" width="342" height="65" rx="32.5" fill="#1f86c6"/><text class="t big wh" y="3889"><tspan x="975">大学生预备党员思想汇报2022最新</tspan><tspan x="975" dy="23.5">版【五】</tspan></text></g>
<g id="n5-dear"><rect class="r5" x="805" y="3384" width="112" height="31" rx="6"/><text class="t x5" x="812" y="3405">敬爱的党组织：</text></g>
<g id="n5-g"><rect class="r5" x="625" y="4284" width="292" height="211.1" rx="6"/><text class="t x5" y="4305"><tspan x="632">成为预备党员以来，我在党组织的严格要求下</tspan><tspan x="632" dy="17.9">，在支部党员的帮助下，通过一系列的理论知</tspan><tspan x="632" dy="17.9">识学习和活动，无论是从政治上还是思想上都</tspan><tspan x="632" dy="17.9">有了很大的提高，对党的认识也更加深刻了。</tspan><tspan x="632" dy="17.9">我更加深刻地认识到，作为一名共产党员，要</tspan><tspan x="632" dy="17.9">时刻以党员的标准严格要求自己，在工作、学</tspan><tspan x="632" dy="17.9">习和生活中起到先锋模范作用。现将我一年来</tspan><tspan x="632" dy="17.9">的思想、工作、学习和生活情况向党组织汇报</tspan><tspan x="632" dy="17.9">如下，请党组织审查，也希望党组织对我进行</tspan><tspan x="632" dy="17.9">严格的考察和监督，帮助我更快地成长，早日</tspan><tspan x="632" dy="17.9">成为一名合格的共产党员。</tspan></text></g>
<g id="n5-s1"><rect class="r5" x="502" y="3592" width="97" height="30" rx="6"/><text class="t x5" x="509" y="3612">一、工作方面</text></g>
<g id="n5-s2"><rect class="r5" x="502" y="3987" width="97" height="31" rx="6"/><text class="t x5" x="509" y="4008">二、生活方面</text></g>
<g id="n5-s3"><rect class="r5" x="502" y="4680" width="97" height="32" rx="6"/><text class="t x5" x="509" y="4701">三、学习方面</text></g>
<g id="n5-s4"><rect class="r5" x="516" y="5158" width="83" height="32" rx="6"/><text class="t x5" x="523" y="5179">推荐阅读：</text></g>
<g id="n5-f1"><rect class="r5" x="184" y="3446" width="292" height="121.6" rx="6"/><text class="t x5" y="3467"><tspan x="191">我深知当今时代是科学技术高速发展的时代，</tspan><tspan x="191" dy="17.9">没有丰富的现代科学文化知识和较强的业务能</tspan><tspan x="191" dy="17.9">力，是很难适应时代发展，为党的事业做出较</tspan><tspan x="191" dy="17.9">大贡献的。在学习科学文化知识的同时，我不</tspan><tspan x="191" dy="17.9">断加强对业务知识和技能的学习，时刻为自己</tspan><tspan x="191" dy="17.9">充电。</tspan></text></g>
<g id="n5-f2"><rect class="r5" x="184" y="3597" width="292" height="229" rx="6"/><text class="t x5" y="3618"><tspan x="191">作为一名大学生，做好自己的工作是我的本职</tspan><tspan x="191" dy="17.9">。我始终认为无论做什么事情，都要清楚的明</tspan><tspan x="191" dy="17.9">白自己的定位，不能好高骛远，要脚踏实地的</tspan><tspan x="191" dy="17.9">做人，只有付出了才会有收获。艰苦奋斗一直</tspan><tspan x="191" dy="17.9">是中华民族自强不息的精神财富，是我们党的</tspan><tspan x="191" dy="17.9">政治优势，是共产党员应有的精神品格。作为</tspan><tspan x="191" dy="17.9">一名预备党员，在过去的一年中，我认真执行</tspan><tspan x="191" dy="17.9">着这一个光荣传统，努力做好本职工作，以党</tspan><tspan x="191" dy="17.9">员的标准严格要求自己，及时、准确、高效率</tspan><tspan x="191" dy="17.9">的完成自己的工作任务，在做好本职工作的同</tspan><tspan x="191" dy="17.9">时能够虚心学习其它各相关技能，成为对社会</tspan><tspan x="191" dy="17.9">有用的复合型人才。</tspan></text></g>
<g id="n5-f3"><rect class="r5" x="184" y="3854" width="292" height="121.6" rx="6"/><text class="t x5" y="3875"><tspan x="191">日常生活中，我一直以一个党员的标准严格要</tspan><tspan x="191" dy="17.9">求自己，尊重领导，团结同事，正确处理与上</tspan><tspan x="191" dy="17.9">级、同事之间的关系，严格遵守各项规章制度</tspan><tspan x="191" dy="17.9">，按要求办事，待人和气，注意自己的干警形</tspan><tspan x="191" dy="17.9">象，热心助人，主动帮助同事做一些力所能及</tspan><tspan x="191" dy="17.9">的事。</tspan></text></g>
<g id="n5-f4"><rect class="r5" x="184" y="4005" width="292" height="175.3" rx="6"/><text class="t x5" y="4026"><tspan x="191">在这预备期的一年以来通过认真学习，使自己</tspan><tspan x="191" dy="17.9">的世界观、人生观和价值观都得到进一步改造</tspan><tspan x="191" dy="17.9">，思想认识得到进一步提高，更加符合一名合</tspan><tspan x="191" dy="17.9">格党员的标准。作为一名党员，要不断改造自</tspan><tspan x="191" dy="17.9">我世界观、人生观和价值观，任何时候都不能</tspan><tspan x="191" dy="17.9">出现信念上的偏差。我能积极主动地结合自己</tspan><tspan x="191" dy="17.9">所担负的工作特点，自觉地加强学习，通过学</tspan><tspan x="191" dy="17.9">习使我明白了党员不只是一种荣誉，更是一种</tspan><tspan x="191" dy="17.9">责任。</tspan></text></g>
<g id="n5-f5"><rect class="r5" x="184" y="4209" width="292" height="139.5" rx="6"/><text class="t x5" y="4230"><tspan x="191">作为一名学生，最主要的任务是学习，我一贯</tspan><tspan x="191" dy="17.9">保持着良好的学习作风，并不断的改进自己的</tspan><tspan x="191" dy="17.9">学习方法，这学年也取得了不错的成绩。除了</tspan><tspan x="191" dy="17.9">认真学习理论知识外，我还很重视理论与实践</tspan><tspan x="191" dy="17.9">结合。我积极地参加各种社会实践，积极的和</tspan><tspan x="191" dy="17.9">同学们交流和沟通，改善学习方法，提高学习</tspan><tspan x="191" dy="17.9">能力。</tspan></text></g>
<g id="n5-f6"><rect class="r5" x="184" y="4379" width="292" height="229" rx="6"/><text class="t x5" y="4400"><tspan x="191">通过社会实践，不但巩固了课堂上所学的知识</tspan><tspan x="191" dy="17.9">，还提高了我的实际动手能力。除此之外，我</tspan><tspan x="191" dy="17.9">还明确了职业生涯目标，同时也在为职业生涯</tspan><tspan x="191" dy="17.9">的准备学习更多的知识。我严于律己，宽以待</tspan><tspan x="191" dy="17.9">人，勤勤恳恳地做好导员布置的工作，以积极</tspan><tspan x="191" dy="17.9">的心态完成各项任务，在今后的日子里。我将</tspan><tspan x="191" dy="17.9">不断加强理论知识的学习，用科学的思想武装</tspan><tspan x="191" dy="17.9">自己，用对祖国和人民的忠诚和责任鞭策自己</tspan><tspan x="191" dy="17.9">，忠诚于党的教育事业，对工作加倍认真负责</tspan><tspan x="191" dy="17.9">，进一步加强党员先锋模范的带头作用，努力</tspan><tspan x="191" dy="17.9">向先进党员同志看齐，不断完善自己，为祖国</tspan><tspan x="191" dy="17.9">、学院的发展做出更大的贡献。</tspan></text></g>
<g id="n5-f7"><rect class="r5" x="184" y="4637" width="292" height="246.9" rx="6"/><text class="t x5" y="4658"><tspan x="191">总之，在过去的一年里，我在组织的关怀与培</tspan><tspan x="191" dy="17.9">养下，认真学习、努力工作，政治思想觉悟都</tspan><tspan x="191" dy="17.9">有了很大的提高，个人综合素质也有了全面的</tspan><tspan x="191" dy="17.9">发展。但我知道还存在着一些缺点和不足，比</tspan><tspan x="191" dy="17.9">如，工作的主动性还不够，有时还有畏难情绪</tspan><tspan x="191" dy="17.9">;工作中不够大胆，创新意识不够。对于自己</tspan><tspan x="191" dy="17.9">的缺点与不足，我将在今后继续加以克服和改</tspan><tspan x="191" dy="17.9">正。如果这次我不能按期转正，说明自己还不</tspan><tspan x="191" dy="17.9">具备一个正式党员的条件，我一定继续努力，</tspan><tspan x="191" dy="17.9">争取早日成为一名正式党员。如果能够按期转</tspan><tspan x="191" dy="17.9">正，我绝不骄傲自满，而是以此作为自己人生</tspan><tspan x="191" dy="17.9">又一个新的起点，在未来的征途上继续不断努</tspan><tspan x="191" dy="17.9">力，争取做一个优秀的共产党员。</tspan></text></g>
<g id="n5-f8"><rect class="r5" x="434" y="4912" width="42" height="31" rx="6"/><text class="t x5" x="441" y="4933">此致</text></g>
<g id="n5-f9"><rect class="r5" x="430" y="4974" width="46" height="31" rx="6"/><text class="t x5" x="437" y="4995">敬礼!</text></g>
<g id="n5-f10"><rect class="r5" x="386" y="5035" width="90" height="31" rx="6"/><text class="t x5" x="393" y="5056">汇报人：xxx</text></g>
<g id="n5-f11"><rect class="r5" x="374" y="5097" width="102" height="31" rx="6"/><text class="t x5" x="381" y="5118">2022年x月x日</text></g>
</g>
</svg>
